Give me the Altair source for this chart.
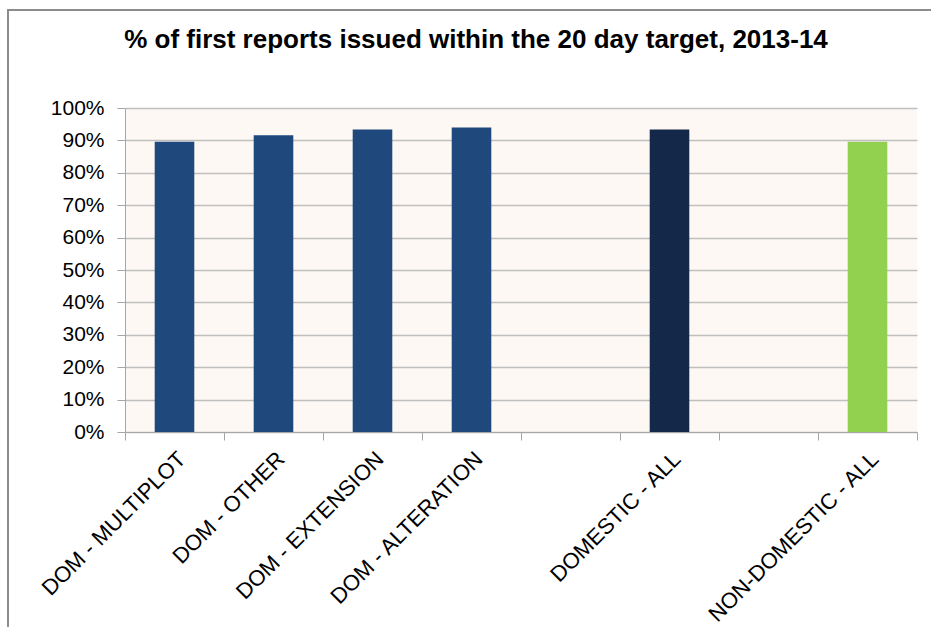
import altair as alt
import pandas as pd

# Category slots along the x axis (two unlabelled spacer slots)
categories = [
    "DOM - MULTIPLOT",
    "DOM - OTHER",
    "DOM - EXTENSION",
    "DOM - ALTERATION",
    " ",
    "DOMESTIC - ALL",
    "  ",
    "NON-DOMESTIC - ALL",
]
bar_categories = [
    "DOM - MULTIPLOT",
    "DOM - OTHER",
    "DOM - EXTENSION",
    "DOM - ALTERATION",
    "DOMESTIC - ALL",
    "NON-DOMESTIC - ALL",
]
pct_within_target = [0.896, 0.916, 0.934, 0.940, 0.934, 0.896]
groups = ["Type", "Type", "Type", "Type", "Domestic", "Non-domestic"]

group_domain = ["Type", "Domestic", "Non-domestic"]
group_colors = ["#1F497D", "#14294A", "#92D050"]

title_text = "% of first reports issued within the 20 day target, 2013-14"

df = pd.DataFrame({"category": bar_categories, "pct": pct_within_target, "group": groups})

FONT = "Liberation Sans"

bars = alt.Chart(df).mark_bar(width={"band": 0.4}).encode(
    x=alt.X(
        "category:N",
        scale=alt.Scale(domain=categories, paddingInner=0, paddingOuter=0),
        axis=alt.Axis(
            title=None,
            labelAngle=-45,
            labelFontSize=22,
            labelFont=FONT,
            labelColor="#000000",
            labelPadding=8,
            labelLimit=0,
            tickBand="extent",
            tickSize=8,
            tickColor="#a6a6a6",
            domainColor="#a6a6a6",
            grid=False,
            labelOverlap=False,
        ),
    ),
    y=alt.Y(
        "pct:Q",
        scale=alt.Scale(domain=[0, 1]),
        axis=alt.Axis(
            title=None,
            format=".0%",
            values=[i / 10 for i in range(11)],
            labelFontSize=21,
            labelFont=FONT,
            labelColor="#000000",
            labelPadding=13,
            tickSize=8,
            tickColor="#a6a6a6",
            domainColor="#a6a6a6",
            grid=True,
            gridColor="#bfbfbf",
            gridWidth=1.5,
        ),
    ),
    color=alt.Color(
        "group:N",
        scale=alt.Scale(domain=group_domain, range=group_colors),
        legend=None,
    ),
)

# Chart heading drawn as a text mark above the plot area
heading = alt.Chart(alt.Data(values=[{"t": title_text}])).mark_text(
    font=FONT, fontSize=26, fontWeight="bold", color="#000000",
    align="center", baseline="alphabetic",
).encode(text="t:N", x=alt.value(351), y=alt.value(-60))

# Frame lines along the left and top edges of the chart
frame_src = alt.Data(values=[{"f": 1}])
left_edge = alt.Chart(frame_src).mark_rule(color="#8c8c8c", strokeWidth=2).encode(
    x=alt.value(-117), y=alt.value(-98), y2=alt.value(530)
)
top_edge = alt.Chart(frame_src).mark_rule(color="#8c8c8c", strokeWidth=2).encode(
    x=alt.value(-118), x2=alt.value(830), y=alt.value(-98)
)

chart = (
    alt.layer(bars, heading, left_edge, top_edge)
    .properties(
        width=792,
        height=324,
        autosize=alt.AutoSizeParams(type="none"),
        padding={"left": 125, "top": 108, "right": 14, "bottom": 195},
        background="#ffffff",
    )
    .configure_view(fill="#fdf8f3", stroke=None)
)

chart.save("out.html", embed_options={"renderer": "svg", "actions": False})
